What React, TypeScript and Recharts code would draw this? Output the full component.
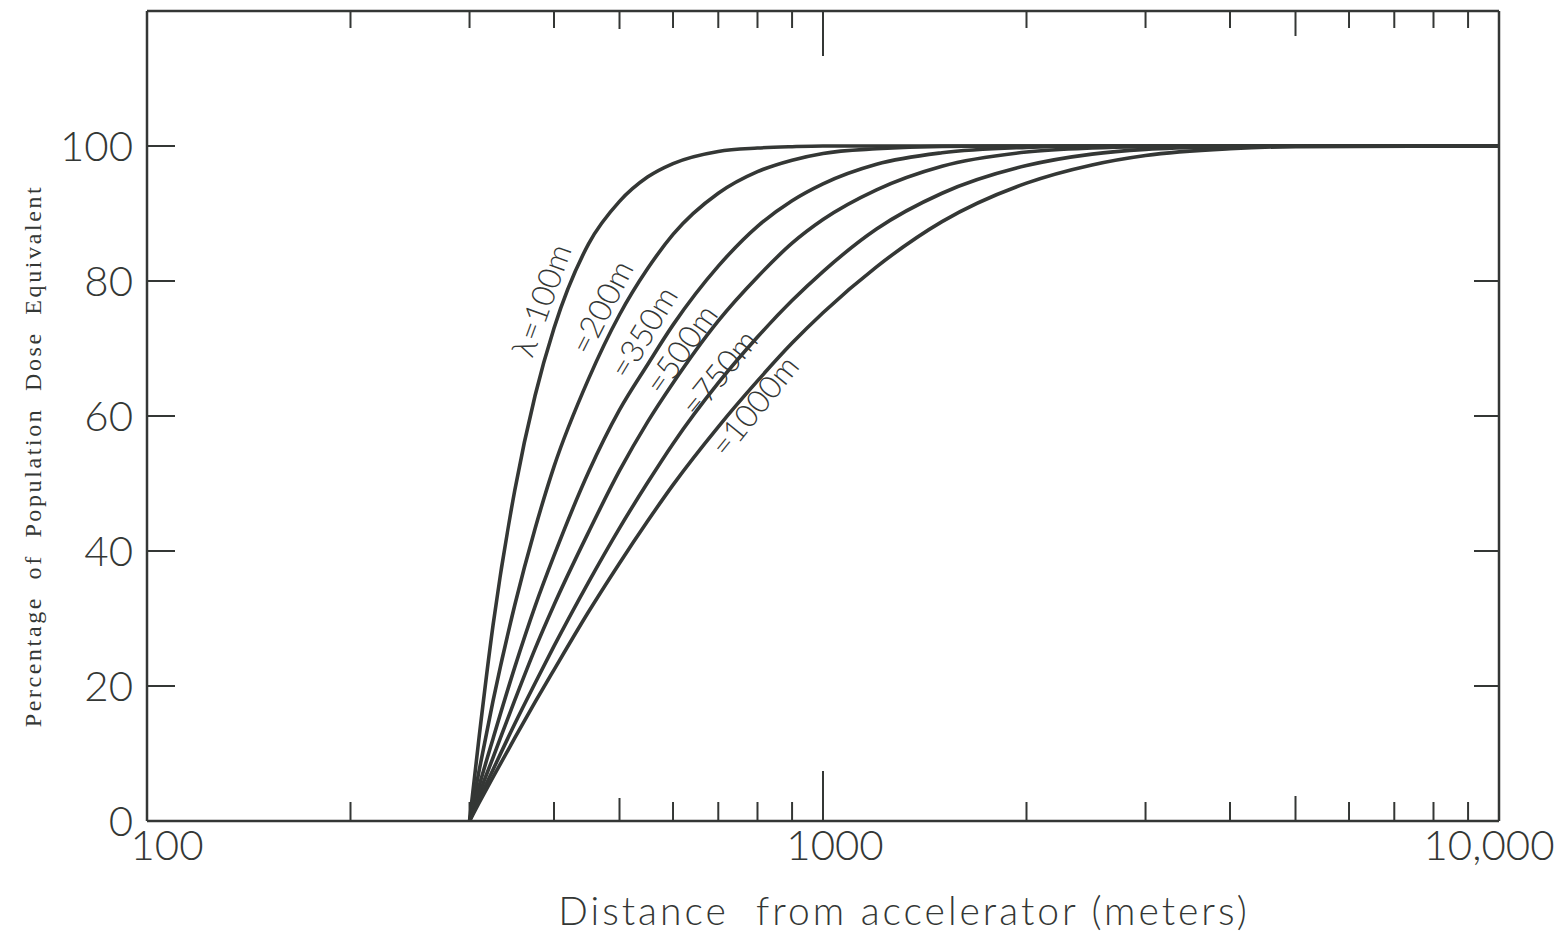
import React from 'react';
import { LineChart, Line, XAxis, YAxis, ReferenceDot, Label } from 'recharts';

// Distance from accelerator (m) at which the curves were read
const distances = [300, 310, 325, 350, 375, 400, 450, 500, 550, 600, 700, 800, 900, 1000, 1200, 1500, 2000, 2500, 3000, 4000, 5000, 10000];

// Percentage of population dose equivalent, one list per attenuation length
const lambda100 = [0, 12.5, 29, 49, 63, 73, 85.5, 91.8, 95.4, 97.4, 99.2, 99.7, 99.9, 100, 100, 100, 100, 100, 100, 100, 100, 100];
const lambda200 = [0, 7.5, 17.8, 32, 43.3, 52.5, 65.5, 75, 81.8, 86.9, 93, 96.2, 97.9, 98.9, 99.6, 99.95, 100, 100, 100, 100, 100, 100];
const lambda350 = [0, 5.2, 12.2, 22.8, 31.8, 39.3, 51.7, 60.9, 67.6, 73.5, 82.2, 88.1, 91.9, 94.4, 97.3, 99, 99.8, 100, 100, 100, 100, 100];
const lambda500 = [0, 4, 9.4, 17.9, 25.5, 32, 42.8, 51.9, 59.1, 64.9, 74.1, 80.6, 85.6, 89.1, 93.5, 97, 99.1, 99.7, 99.9, 100, 100, 100];
const lambda750 = [0, 3.2, 7.6, 14.4, 20.4, 25.9, 35.4, 43.4, 50.1, 55.9, 64.9, 71.7, 77.1, 81.4, 87.7, 93, 97.1, 98.8, 99.5, 99.9, 100, 100];
const lambda1000 = [0, 2.7, 6.5, 12.3, 17.6, 22.4, 31, 38.2, 44.4, 49.8, 58.4, 65.2, 70.8, 75.3, 82.1, 88.8, 94.5, 97.2, 98.6, 99.6, 99.9, 100];

const seriesKeys = ['l100', 'l200', 'l350', 'l500', 'l750', 'l1000'];
const seriesValues = [lambda100, lambda200, lambda350, lambda500, lambda750, lambda1000];
const seriesNames = ['λ=100m', '=200m', '=350m', '=500m', '=750m', '=1000m'];

// Axis ticks
const xTicks = [100, 200, 300, 400, 500, 600, 700, 800, 900, 1000, 2000, 3000, 4000, 5000, 6000, 7000, 8000, 9000, 10000];
const xTickLabels: Record<number, string> = { 100: '100', 1000: '1000', 10000: '10,000' };
const yTicks = [0, 20, 40, 60, 80, 100];

// Curve label anchors (in data coordinates) and their rotation
const curveLabelAt = [
  { x: 382, y: 77.2, angle: -70 },
  { x: 469, y: 76.2, angle: -63 },
  { x: 541, y: 72.5, angle: -59 },
  { x: 615, y: 70, angle: -55 },
  { x: 700, y: 66.5, angle: -51 },
  { x: 790, y: 61.6, angle: -51 },
];

const data = distances.map((d, i) => {
  const row: Record<string, number> = { distance: d };
  seriesKeys.forEach((k, j) => {
    row[k] = seriesValues[j][i];
  });
  return row;
});

const INK = '#343735';
const SANS = 'Lato, "Open Sans", "DejaVu Sans", sans-serif';
const SERIF = '"Liberation Serif", "DejaVu Serif", serif';

function tickLength(v: number, top: boolean): number {
  if (v === 1000) return top ? 45 : 50;
  if (v === 5000) return 25;
  if (v === 500) return top ? 18 : 23;
  return top ? 17 : 19;
}

const BottomTick = (props: any) => {
  const { x, y, payload } = props;
  const v = payload.value as number;
  const label = xTickLabels[v];
  const dx = v === 100 ? 20 : v === 10000 ? -10 : 12;
  return (
    <g>
      {v !== 100 && v !== 10000 && (
        <line x1={x} y1={y} x2={x} y2={y - tickLength(v, false)} stroke={INK} strokeWidth={2} />
      )}
      {label && (
        <text x={x + dx} y={y + 39} textAnchor="middle" fontFamily={SANS} fontWeight={300} fontSize={42} fill={INK}>
          {label}
        </text>
      )}
    </g>
  );
};

const TopTick = (props: any) => {
  const { x, y, payload } = props;
  const v = payload.value as number;
  if (v === 100 || v === 10000) return <g />;
  return <line x1={x} y1={y} x2={x} y2={y + tickLength(v, true)} stroke={INK} strokeWidth={2} />;
};

const LeftTick = (props: any) => {
  const { x, y, payload } = props;
  const v = payload.value as number;
  return (
    <g>
      {v !== 0 && <line x1={x} y1={y} x2={x + 28} y2={y} stroke={INK} strokeWidth={2} />}
      <text x={x - 14} y={y + 15} textAnchor="end" fontFamily={SANS} fontWeight={300} fontSize={42} fill={INK}>
        {String(v)}
      </text>
    </g>
  );
};

const RightTick = (props: any) => {
  const { x, y, payload } = props;
  const v = payload.value as number;
  if (v === 0) return <g />;
  return <line x1={x} y1={y} x2={x - 25} y2={y} stroke={INK} strokeWidth={2} />;
};

const axisLine = { stroke: INK, strokeWidth: 2.5 };

export default function App() {
  return (
    <div style={{ position: 'absolute', left: 0, top: 0, width: 1562, height: 934, background: '#ffffff' }}>
      <LineChart width={1562} height={934} data={data} margin={{ top: 0, right: 0, bottom: 0, left: 0 }}>
        <XAxis
          xAxisId="bottom"
          dataKey="distance"
          type="number"
          scale="log"
          domain={[100, 10000]}
          allowDataOverflow
          ticks={xTicks}
          interval={0}
          height={113}
          tickSize={0}
          tickMargin={0}
          tickLine={false}
          axisLine={axisLine}
          tick={<BottomTick />}
        >
          <Label
            content={(p: any) => {
              const vb = p.viewBox || { x: 147, y: 821, width: 1352, height: 113 };
              return (
                <text
                  x={vb.x + vb.width / 2 + 81}
                  y={vb.y + 104}
                  textAnchor="middle"
                  fontFamily={SANS}
                  fontWeight={300}
                  fontSize={39}
                  letterSpacing={3}
                  fill={INK}
                  style={{ whiteSpace: 'pre' }}
                >
                  {'Distance  from accelerator (meters)'}
                </text>
              );
            }}
          />
        </XAxis>
        <XAxis
          xAxisId="top"
          orientation="top"
          dataKey="distance"
          type="number"
          scale="log"
          domain={[100, 10000]}
          allowDataOverflow
          ticks={xTicks}
          interval={0}
          height={11}
          tickSize={0}
          tickMargin={0}
          tickLine={false}
          axisLine={axisLine}
          tick={<TopTick />}
        />
        <YAxis
          yAxisId="left"
          type="number"
          domain={[0, 120]}
          allowDataOverflow
          ticks={yTicks}
          interval={0}
          width={147}
          tickSize={0}
          tickMargin={0}
          tickLine={false}
          axisLine={axisLine}
          tick={<LeftTick />}
        >
          <Label
            content={() => (
              <text
                x={41}
                y={456}
                transform="rotate(-90, 41, 456)"
                textAnchor="middle"
                fontFamily={SERIF}
                fontSize={24}
                letterSpacing={2.6}
                wordSpacing={8}
                fill={INK}
              >
                Percentage of Population Dose Equivalent
              </text>
            )}
          />
        </YAxis>
        <YAxis
          yAxisId="right"
          orientation="right"
          type="number"
          domain={[0, 120]}
          allowDataOverflow
          ticks={yTicks}
          interval={0}
          width={63}
          tickSize={0}
          tickMargin={0}
          tickLine={false}
          axisLine={axisLine}
          tick={<RightTick />}
        />
        {seriesKeys.map((k, j) => (
          <Line
            key={k}
            xAxisId="bottom"
            yAxisId="left"
            dataKey={k}
            name={seriesNames[j]}
            type="monotone"
            stroke={INK}
            strokeWidth={3.6}
            dot={false}
            activeDot={false}
            isAnimationActive={false}
          />
        ))}
        {curveLabelAt.map((c, j) => (
          <ReferenceDot
            key={'lab' + j}
            xAxisId="bottom"
            yAxisId="left"
            x={c.x}
            y={c.y}
            r={1}
            shape={(p: any) => (
              <text
                x={p.cx}
                y={p.cy}
                transform={`rotate(${c.angle}, ${p.cx}, ${p.cy})`}
                textAnchor="middle"
                dominantBaseline="central"
                fontFamily={SANS}
                fontWeight={300}
                fontSize={32}
                fill={INK}
              >
                {seriesNames[j]}
              </text>
            )}
          />
        ))}
      </LineChart>
    </div>
  );
}
